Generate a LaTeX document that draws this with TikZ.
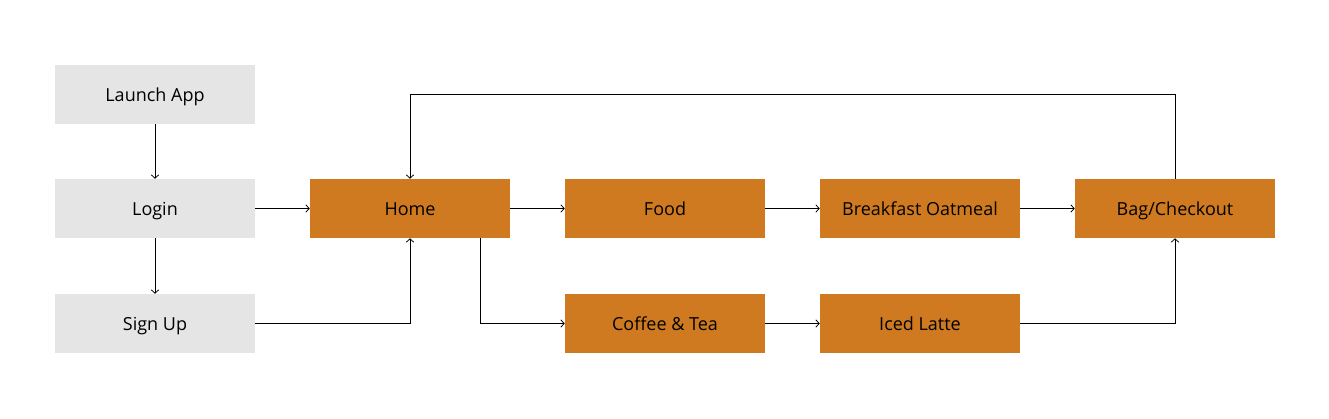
\documentclass[tikz,border=0pt]{standalone}
\usepackage{fontspec}
\setmainfont{Open Sans}
\usetikzlibrary{arrows.meta,positioning}

\definecolor{screengray}{HTML}{E5E5E5}
\definecolor{menuorange}{HTML}{CF7A21}

\tikzset{
  screen/.style={fill=screengray,minimum width=150pt,minimum height=44.25pt,inner sep=0pt,
    text height=10.5pt,text depth=0pt,font=\fontsize{13.5}{16}\selectfont},
  menu/.style={screen,fill=menuorange},
  flow/.style={-{Straight Barb[length=2.5pt,width=5.5pt]},line width=0.6pt}
}

\begin{document}
\begin{tikzpicture}[x=0.75pt,y=-0.75pt]
  \useasboundingbox (0,0) rectangle (1329,418);

  % Entry screens
  \node[screen] (launch) at (155,94.5) {Launch App};
  \node[screen] (login) at (155,208.5) {Login};
  \node[screen] (signup) at (155,323.5) {Sign Up};

  % Ordering screens
  \node[menu] (home) at (410,208.5) {Home};
  \node[menu] (food) at (665,208.5) {Food};
  \node[menu] (oatmeal) at (920,208.5) {Breakfast Oatmeal};
  \node[menu] (bag) at (1175,208.5) {Bag/Checkout};
  \node[menu] (coffee) at (665,323.5) {Coffee \& Tea};
  \node[menu] (latte) at (920,323.5) {Iced Latte};

  % Connectors
  \draw[flow] (launch) -- (login);
  \draw[flow] (login) -- (signup);
  \draw[flow] (login) -- (home);
  \draw[flow] (signup) -| (home);
  \draw[flow] ([xshift=52.5pt]home.south) |- (coffee);
  \draw[flow] (home) -- (food);
  \draw[flow] (food) -- (oatmeal);
  \draw[flow] (oatmeal) -- (bag);
  \draw[flow] (coffee) -- (latte);
  \draw[flow] (latte) -| (bag);
  \draw[flow] (bag.north) -- ++(0,-84) -| (home.north);
\end{tikzpicture}
\end{document}
